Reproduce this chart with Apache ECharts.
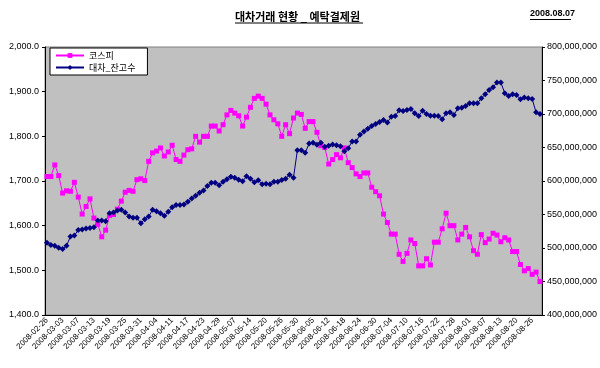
<!DOCTYPE html>
<html><head><meta charset="utf-8">
<script src="https://cdn.jsdelivr.net/npm/echarts@6/dist/echarts.min.js"></script>
<style>html,body{margin:0;padding:0;background:#fff}#c{width:600px;height:368px}</style>
</head><body><div id="c"></div>
<script>
var titleText = '대차거래 현황 _ 예탁결제원';
var dateText = '2008.08.07';
var seriesNames = ['코스피', '대차_잔고수'];
var dates = [
'2008-02-26','2008-02-27','2008-02-28','2008-02-29',
'2008-03-03','2008-03-04','2008-03-05','2008-03-06','2008-03-07','2008-03-10','2008-03-11','2008-03-12','2008-03-13','2008-03-14','2008-03-17','2008-03-18','2008-03-19','2008-03-20','2008-03-21','2008-03-24','2008-03-25','2008-03-26','2008-03-27','2008-03-28','2008-03-31',
'2008-04-01','2008-04-02','2008-04-03','2008-04-04','2008-04-07','2008-04-08','2008-04-10','2008-04-11','2008-04-14','2008-04-15','2008-04-16','2008-04-17','2008-04-18','2008-04-21','2008-04-22','2008-04-23','2008-04-24','2008-04-25','2008-04-28','2008-04-29','2008-04-30',
'2008-05-02','2008-05-06','2008-05-07','2008-05-08','2008-05-09','2008-05-13','2008-05-14','2008-05-15','2008-05-16','2008-05-19','2008-05-20','2008-05-21','2008-05-22','2008-05-23','2008-05-26','2008-05-27','2008-05-28','2008-05-29','2008-05-30',
'2008-06-02','2008-06-03','2008-06-04','2008-06-05','2008-06-09','2008-06-10','2008-06-11','2008-06-12','2008-06-13','2008-06-16','2008-06-17','2008-06-18','2008-06-19','2008-06-20','2008-06-23','2008-06-24','2008-06-25','2008-06-26','2008-06-27','2008-06-30',
'2008-07-01','2008-07-02','2008-07-03','2008-07-04','2008-07-07','2008-07-08','2008-07-09','2008-07-10','2008-07-11','2008-07-14','2008-07-15','2008-07-16','2008-07-17','2008-07-18','2008-07-21','2008-07-22','2008-07-23','2008-07-24','2008-07-25','2008-07-28','2008-07-29','2008-07-30','2008-07-31',
'2008-08-01','2008-08-04','2008-08-05','2008-08-06','2008-08-07','2008-08-08','2008-08-11','2008-08-12','2008-08-13','2008-08-14','2008-08-18','2008-08-19','2008-08-20','2008-08-21','2008-08-22','2008-08-25','2008-08-26','2008-08-27','2008-08-28'
];
var kospi = [
1710,1710,1736,1712,1673,1678,1677,1697,1664,1626,
1643,1660,1617,1603,1575,1590,1623,1625,1637,1655,
1675,1679,1677,1703,1705,1701,1744,1763,1767,1774,
1756,1765,1780,1748,1744,1758,1770,1772,1800,1787,
1800,1800,1823,1823,1812,1826,1848,1858,1852,1846,
1823,1843,1865,1885,1890,1885,1872,1848,1837,1828,
1800,1826,1806,1841,1852,1849,1818,1833,1833,1809,
1779,1775,1738,1748,1759,1752,1774,1741,1730,1716,
1710,1718,1718,1686,1676,1667,1626,1607,1581,1581,
1536,1520,1538,1568,1560,1510,1510,1526,1512,1563,
1563,1593,1628,1600,1600,1568,1581,1596,1575,1544,
1536,1580,1562,1570,1583,1579,1564,1573,1568,1542,
1542,1513,1499,1504,1491,1496,1475
];
// 대차 잔고수, in millions of shares
var loanBalanceM = [
508,504.5,503.5,500.5,498.5,503.5,517,518.5,527,527.5,
529,530,531,541,541,540,552,553,556,557,
553,547,545,545,537,543,547,557,555,552,
548,554,561,564,564,565,569,574,578,582.5,
586,592.5,597.5,597.5,593.5,599,602.5,606.5,605,602,
599.5,607,603.5,598,601,595,596,595,599,599,
601.5,603.5,609.5,605,646,646,642,656,657,654,
657,651,652.5,654.5,653.5,652,644.5,649,659,659,
669,674,678,682,685,688,691,687.5,696,697,
705.5,704.5,706,707.5,701,697,705,700,697.5,697.5,
697,692,701,702.5,698.5,708.5,709.5,712,716,716,
716,723.5,729.5,736,740,747,747,731,727,729.5,
728.5,722,724.5,723.5,722.5,702.5,700
];

var FONT = '"Liberation Sans", Arial, sans-serif';
var KFONT = '"Noto Sans CJK KR", sans-serif';
var chart = echarts.init(document.getElementById('c'), null, {renderer: 'canvas'});
chart.setOption({
  animation: false,
  backgroundColor: '#ffffff',
  graphic: [
    {type: 'text', left: 235, top: 11, style: {text: titleText, font: 'bold 11px ' + KFONT, fill: '#000'}},
    {type: 'line', shape: {x1: 235, y1: 23, x2: 363, y2: 23}, style: {stroke: '#000', lineWidth: 1}},
    {type: 'text', left: 530, top: 9, style: {text: dateText, font: 'bold 9px ' + FONT, fill: '#000'}},
    {type: 'line', shape: {x1: 530, y1: 19.5, x2: 571, y2: 19.5}, style: {stroke: '#000', lineWidth: 1}}
  ],
  legend: {
    orient: 'vertical', left: 50, top: 48,
    backgroundColor: '#ffffff', borderColor: '#000', borderWidth: 1, borderRadius: 0,
    padding: [3, 12, 3, 5], itemGap: 3, itemWidth: 28, itemHeight: 6,
    textStyle: {fontFamily: KFONT, fontSize: 9, color: '#000'},
    data: seriesNames
  },
  grid: {left: 45, right: 57, top: 47, bottom: 53, show: true, backgroundColor: '#C0C0C0', borderColor: '#808080', borderWidth: 1},
  xAxis: {
    type: 'category', data: dates, boundaryGap: true,
    axisLine: {lineStyle: {color: '#000', width: 1}},
    axisTick: {interval: 0, inside: true, length: 3, lineStyle: {color: '#000'}},
    axisLabel: {interval: 3, rotate: 45, fontSize: 8, fontFamily: FONT, color: '#000', margin: 4}
  },
  yAxis: [
    {type: 'value', min: 1400, max: 2000, interval: 100, position: 'left',
     axisLine: {show: true, lineStyle: {color: '#000'}},
     axisTick: {show: true, length: 3, lineStyle: {color: '#000'}},
     splitLine: {show: false},
     axisLabel: {fontSize: 9, fontFamily: FONT, color: '#000', margin: 6,
       formatter: function (v) { return v.toLocaleString('en-US', {minimumFractionDigits: 1, maximumFractionDigits: 1}); }}},
    {type: 'value', min: 400, max: 800, interval: 50, position: 'right',
     axisLine: {show: true, lineStyle: {color: '#000'}},
     axisTick: {show: true, length: 3, lineStyle: {color: '#000'}},
     splitLine: {show: false},
     axisLabel: {fontSize: 9, fontFamily: FONT, color: '#000', margin: 5,
       formatter: function (v) { return (v * 1000000).toLocaleString('en-US'); }}}
  ],
  series: [
    {name: seriesNames[0], type: 'line', yAxisIndex: 0, data: kospi,
     symbol: 'rect', symbolSize: 5, showAllSymbol: true,
     lineStyle: {color: '#FF00FF', width: 1}, itemStyle: {color: '#FF00FF'}},
    {name: seriesNames[1], type: 'line', yAxisIndex: 1, data: loanBalanceM,
     symbol: 'diamond', symbolSize: 6, showAllSymbol: true,
     lineStyle: {color: '#000080', width: 1}, itemStyle: {color: '#000080'}}
  ]
});
</script></body></html>
